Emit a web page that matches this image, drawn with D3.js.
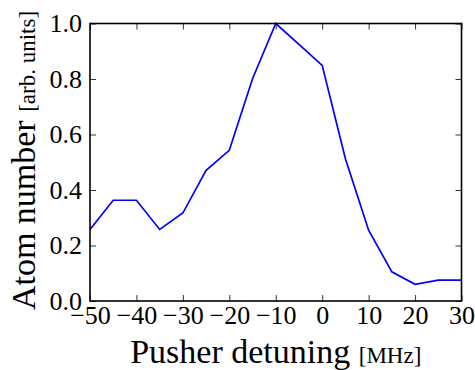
<!DOCTYPE html>
<html><head><meta charset="utf-8">
<script src="https://cdn.jsdelivr.net/npm/d3@7"></script>
<style>body{margin:0;background:#fff}svg{display:block}text{font-family:"Liberation Serif","DejaVu Serif",serif}</style>
</head><body>
<script>
const detuning = [-50,-45,-40,-35,-30,-25,-20,-15,-10,-5,0,5,10,15,20,25,30];
const atomNumber = [0.258,0.363,0.363,0.258,0.317,0.471,0.543,0.801,1.0,0.925,0.849,0.513,0.255,0.105,0.06,0.0755,0.0755];
const xTicks = [-50,-40,-30,-20,-10,0,10,20,30];
const yTicks = [0.0,0.2,0.4,0.6,0.8,1.0];

const W=475,H=370;
const m={l:90,r:475-461.5,t:23.5,b:370-301};
const svg=d3.select("body").append("svg").attr("width",W).attr("height",H);
const x=d3.scaleLinear().domain([-50,30]).range([m.l,W-m.r]);
const y=d3.scaleLinear().domain([0,1]).range([H-m.b,m.t]);
const font="Liberation Serif";

const line=d3.line().x((d,i)=>x(detuning[i])).y(d=>y(d));
svg.append("path").datum(atomNumber).attr("d",line).attr("fill","none").attr("stroke","#0000ff").attr("stroke-width",1.7);

const fmtX=d=>d<0?"\u2212"+Math.abs(d):String(d);
const tl=6;
const gB=svg.append("g").attr("transform",`translate(0,${H-m.b})`).call(d3.axisBottom(x).tickValues(xTicks).tickFormat(fmtX).tickSizeInner(-tl).tickSizeOuter(0).tickPadding(5));
const gT=svg.append("g").attr("transform",`translate(0,${m.t})`).call(d3.axisTop(x).tickValues(xTicks).tickFormat("").tickSizeInner(-tl).tickSizeOuter(0));
const gL=svg.append("g").attr("transform",`translate(${m.l},0)`).call(d3.axisLeft(y).tickValues(yTicks).tickFormat(d3.format(".1f")).tickSizeInner(-tl).tickSizeOuter(0).tickPadding(8));
const gR=svg.append("g").attr("transform",`translate(${W-m.r},0)`).call(d3.axisRight(y).tickValues(yTicks).tickFormat("").tickSizeInner(-tl).tickSizeOuter(0));
[gB,gT,gL,gR].forEach(g=>{g.select(".domain").remove();g.selectAll("line").attr("stroke","#333").attr("stroke-width",1);g.selectAll("text").attr("font-family",font).style("font-size","26px").attr("fill","#000");});

svg.append("rect").attr("x",m.l).attr("y",m.t).attr("width",W-m.r-m.l).attr("height",H-m.b-m.t).attr("fill","none").attr("stroke","#000").attr("stroke-width",1.6);

const xl=svg.append("text").attr("x",(m.l+W-m.r)/2).attr("y",363).attr("text-anchor","middle").attr("font-family",font).style("font-size","34px");
xl.append("tspan").text("Pusher detuning ");
xl.append("tspan").style("font-size","23px").text("[MHz]");

const yl=svg.append("text").attr("transform",`translate(35,160.5) rotate(-90)`).attr("text-anchor","middle").attr("font-family",font).style("font-size","34px");
yl.append("tspan").text("Atom number ");
yl.append("tspan").style("font-size","23px").text("[arb. units]");
</script>
</body></html>
